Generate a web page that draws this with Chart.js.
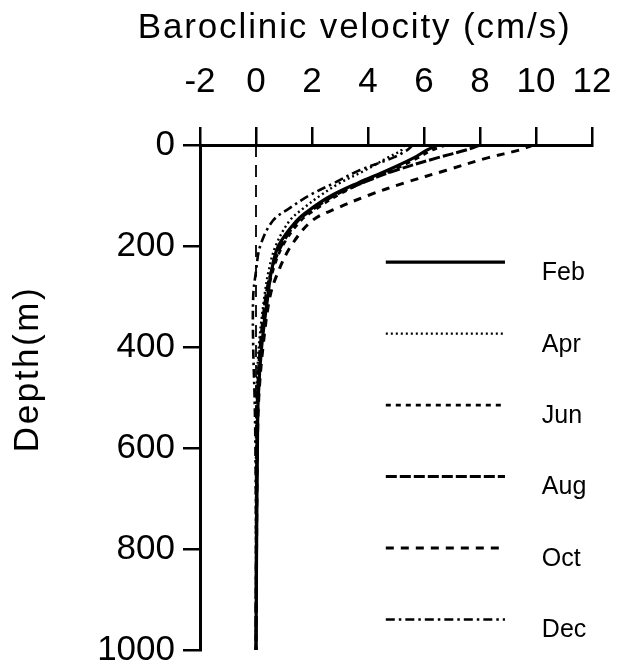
<!DOCTYPE html>
<html>
<head>
<meta charset="utf-8">
<script src="https://cdn.jsdelivr.net/npm/chart.js@4"></script>
<style>
html,body{margin:0;padding:0;background:#fff;}
#wrap{width:618px;height:666px;}
</style>
</head>
<body>
<div id="wrap"><canvas id="c" width="618" height="666"></canvas></div>
<script>
// ---- data ----
const depths = [0, 10, 25, 50, 75, 100, 125, 150, 200, 250, 300, 400, 500, 600, 800, 1000];
const months = ["Feb", "Apr", "Jun", "Aug", "Oct", "Dec"];
const velFeb = [6.5, 6.1, 5.65, 4.7, 3.65, 2.7, 2.0, 1.45, 0.8, 0.55, 0.42, 0.2, 0.08, 0.05, 0.02, 0.0];
const velApr = [5.3, 5.2, 4.7, 3.9, 3.0, 2.3, 1.7, 1.2, 0.7, 0.45, 0.3, 0.1, 0.02, 0.0, 0.0, 0.0];
const velJun = [6.8, 6.3, 5.8, 4.9, 3.8, 2.9, 2.2, 1.6, 0.95, 0.6, 0.4, 0.2, 0.08, 0.04, 0.02, 0.0];
const velAug = [8.0, 7.5, 6.5, 5.0, 3.8, 2.8, 2.1, 1.5, 0.9, 0.55, 0.35, 0.15, 0.05, 0.03, 0.01, 0.0];
const velOct = [9.9, 9.4, 8.3, 6.8, 5.3, 4.0, 2.9, 2.0, 1.25, 0.8, 0.5, 0.25, 0.1, 0.05, 0.02, 0.0];
const velDec = [5.6, 5.4, 4.9, 3.7, 2.8, 1.9, 1.2, 0.6, 0.15, 0.0, -0.1, -0.1, -0.05, -0.02, 0.0, 0.0];
const zeroLineDepths = [0, 1000];
const zeroLineVel = [0, 0];
const xTicks = [-2, 0, 2, 4, 6, 8, 10, 12];
const yTicks = [0, 200, 400, 600, 800, 1000];
const xTitle = "Baroclinic velocity (cm/s)";
const yTitle = "Depth(m)";

const series = [velFeb, velApr, velJun, velAug, velOct, velDec];
const styles = [
  {dash: [], width: 3.2},
  {dash: [2, 3], width: 2.4},
  {dash: [5, 5], width: 2.6},
  {dash: [11, 3], width: 3},
  {dash: [8, 7], width: 3},
  {dash: [9, 4, 2.5, 4], width: 2.6}
];

const FONT = "'Liberation Sans', Arial, Helvetica, sans-serif";

const datasets = series.map((v, i) => ({
  label: months[i],
  data: v.map((x, k) => ({x: x, y: depths[k]})),
  showLine: true,
  borderColor: '#000',
  borderWidth: styles[i].width,
  borderDash: styles[i].dash,
  pointRadius: 0,
  tension: 0.35,
  fill: false
}));
datasets.unshift({
  label: 'zero',
  data: zeroLineVel.map((x, k) => ({x: x, y: zeroLineDepths[k]})),
  showLine: true,
  borderColor: '#000',
  borderWidth: 1.8,
  borderDash: [12, 8],
  pointRadius: 0,
  fill: false
});

function spacedText(ctx, text, x, y, target) {
  const w = ctx.measureText(text).width;
  const n = text.length;
  const sp = n > 1 ? (target - w) / (n - 1) : 0;
  let cx = x - target / 2;
  for (const ch of text) {
    ctx.fillText(ch, cx, y);
    cx += ctx.measureText(ch).width + sp;
  }
}

const decorPlugin = {
  id: 'decor',
  afterDatasetsDraw(chart) {
    const {ctx, chartArea: a} = chart;
    const w = a.right - a.left, h = a.bottom - a.top;
    ctx.save();
    months.forEach((m, i) => {
      const yLine = a.top + h * (0.232 + 0.1415 * i);
      const x0 = a.left + w * 0.474, x1 = a.left + w * 0.778;
      ctx.beginPath();
      ctx.setLineDash(styles[i].dash);
      ctx.lineWidth = styles[i].width;
      ctx.strokeStyle = '#000';
      ctx.moveTo(x0, yLine);
      ctx.lineTo(x1, yLine);
      ctx.stroke();
      ctx.setLineDash([]);
      ctx.fillStyle = '#000';
      ctx.font = "25px " + FONT;
      ctx.textBaseline = 'middle';
      ctx.textAlign = 'left';
      ctx.fillText(m, a.left + w * 0.872, yLine + 11);
    });
    ctx.fillStyle = '#000';
    ctx.font = "35px " + FONT;
    ctx.textAlign = 'left';
    ctx.textBaseline = 'alphabetic';
    spacedText(ctx, xTitle, a.left + w * 0.392, 38, 432);
    ctx.translate(38, a.top + h * 0.446);
    ctx.rotate(-Math.PI / 2);
    spacedText(ctx, yTitle, 0, 0, 164);
    ctx.restore();
  }
};

new Chart(document.getElementById('c'), {
  type: 'scatter',
  data: {datasets},
  plugins: [decorPlugin],
  options: {
    responsive: false,
    animation: false,
    devicePixelRatio: 1,
    layout: {padding: {left: 0, right: 26, top: 0, bottom: 16}},
    plugins: {legend: {display: false}, tooltip: {enabled: false}},
    scales: {
      x: {
        type: 'linear',
        position: 'top',
        min: -2, max: 12,
        afterBuildTicks: s => { s.ticks = xTicks.map(v => ({value: v})); },
        afterFit: s => { s.height = 145; s.paddingLeft = 0; s.paddingRight = 0; },
        ticks: {color: '#000', font: {family: FONT, size: 35}, padding: 24, maxRotation: 0, autoSkip: false,
                callback: v => String(v)},
        grid: {drawOnChartArea: false, drawTicks: true, tickLength: 18, color: '#000', lineWidth: 2.5},
        border: {display: true, color: '#000', width: 3},
        title: {display: false}
      },
      y: {
        type: 'linear',
        reverse: true,
        min: 0, max: 1000,
        afterBuildTicks: s => { s.ticks = yTicks.map(v => ({value: v})); },
        afterFit: s => { s.width = 200; s.paddingTop = 0; s.paddingBottom = 0; },
        ticks: {color: '#000', font: {family: FONT, size: 35}, padding: 8, autoSkip: false,
                callback: v => String(v)},
        grid: {drawOnChartArea: false, drawTicks: true, tickLength: 17, color: '#000', lineWidth: 2.5},
        border: {display: true, color: '#000', width: 3},
        title: {display: false}
      }
    }
  }
});
</script>
</body>
</html>
